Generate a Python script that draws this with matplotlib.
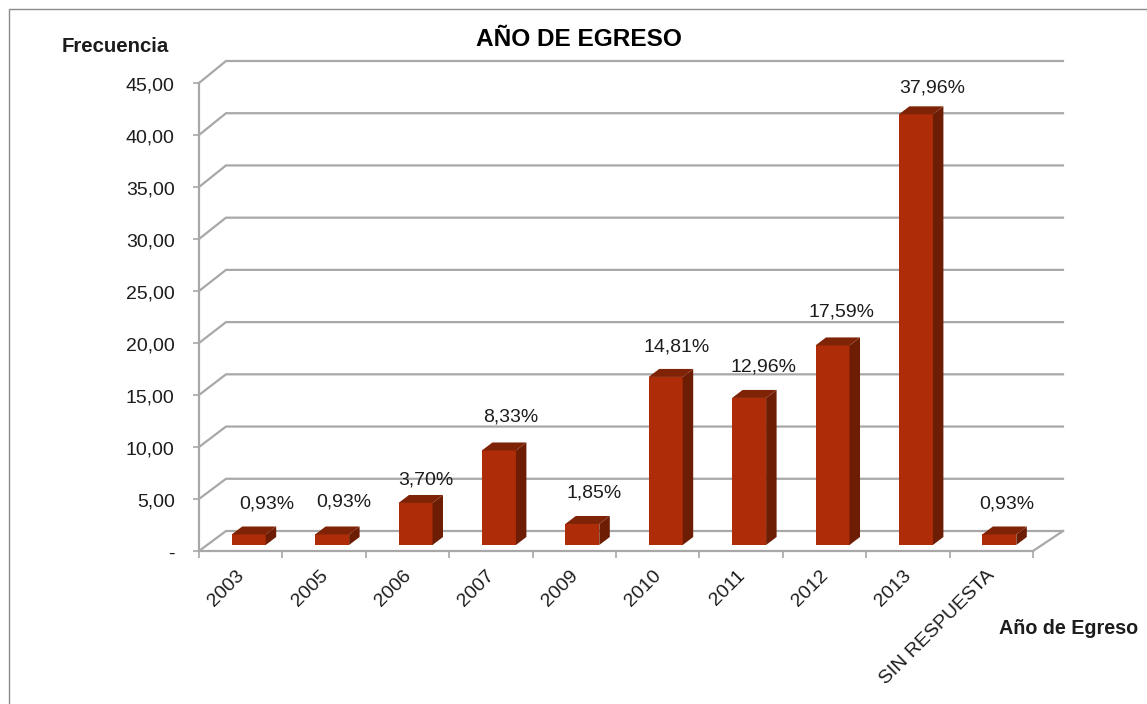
import matplotlib
matplotlib.use("Agg")
import matplotlib.pyplot as plt
from matplotlib.patches import Polygon
from matplotlib.lines import Line2D
from matplotlib.transforms import Affine2D

# ---- data ----
categories = ["2003", "2005", "2006", "2007", "2009", "2010", "2011", "2012", "2013", "SIN RESPUESTA"]
frequency = [1, 1, 4, 9, 2, 16, 14, 19, 41, 1]
pct_labels = ["0,93%", "0,93%", "3,70%", "8,33%", "1,85%", "14,81%", "12,96%", "17,59%", "37,96%", "0,93%"]
y_ticks = [0, 5, 10, 15, 20, 25, 30, 35, 40, 45]
y_tick_labels = ["-", "5,00", "10,00", "15,00", "20,00", "25,00", "30,00", "35,00", "40,00", "45,00"]

# ---- layout (pixels on a 1147x704 canvas) ----
W, H = 1147, 704
label_dx = [18, 12, 10, 12, 12, 11, 14, 9, 16, 8]
label_dy = [30, 32, 23, 33, 31, 30, 31, 33, 26, 30]
FRONT, SIDE, TOP = "#AE2D08", "#6E1D05", "#7E2306"
GRID = "#A8A8A8"
TXT = "#1c1c1c"

plt.rcParams["font.family"] = ["Liberation Sans", "DejaVu Sans"]
fig = plt.figure(figsize=(W / 100, H / 100), dpi=100, facecolor="white")
ax = fig.add_axes([199 / W, (H - 551) / H, 834 / W, 468 / H])
ax.patch.set_visible(False)
ax.set_xlim(0, len(categories))
ax.set_ylim(0, 45)
px_x = len(categories) / 834   # data units per pixel
px_y = 45 / 468

back_l = 27 * px_x
back_r = len(categories) + 30 * px_x
back_y = 20 * px_y
back_scale = 1.0043

# walls / gridlines
for v in y_ticks:
    ax.plot([0, back_l, back_r], [v, v * back_scale + back_y, v * back_scale + back_y],
            color=GRID, lw=1.6, clip_on=False, zorder=1, solid_joinstyle="miter")
# floor
ax.plot([len(categories), back_r], [0, back_y], color=GRID, lw=1.6, clip_on=False, zorder=1)

# bars
bar_w = 34 * px_x
bar_dx, bar_dy = 10.5 * px_x, 8 * px_y
stretch = 1.01
for i, (f, lab) in enumerate(zip(frequency, pct_labels)):
    x0 = i + 0.5 + 8 * px_x - bar_w / 2
    x1 = x0 + bar_w
    y0 = 6 * px_y
    y1 = y0 + f * stretch
    ax.bar(x0, f * stretch, width=bar_w, bottom=y0, align="edge", color=FRONT,
           clip_on=False, zorder=3)
    ax.add_patch(Polygon([(x1, y0), (x1 + bar_dx, y0 + bar_dy), (x1 + bar_dx, y1 + bar_dy), (x1, y1)],
                         closed=True, fc=SIDE, ec="none", clip_on=False, zorder=3))
    ax.add_patch(Polygon([(x0, y1), (x1, y1), (x1 + bar_dx, y1 + bar_dy), (x0 + bar_dx, y1 + bar_dy)],
                         closed=True, fc=TOP, ec="none", clip_on=False, zorder=3))
    ax.annotate(lab, xy=((x0 + x1) / 2, y1), xytext=(label_dx[i] * 0.72, label_dy[i] * 0.72),
                textcoords="offset points", ha="center", va="center", fontsize=14,
                color=TXT, zorder=5, annotation_clip=False)

# axes
for s in ("top", "right"):
    ax.spines[s].set_visible(False)
for s in ("left", "bottom"):
    ax.spines[s].set_color(GRID)
    ax.spines[s].set_linewidth(1.6)
ax.set_yticks(y_ticks, y_tick_labels, fontsize=14, color=TXT)
ax.tick_params(axis="y", length=4.5, width=1.2, color=GRID, pad=13)
for t in ax.get_yticklabels():
    t.set_transform(t.get_transform() + Affine2D().translate(0, -1))
ax.set_xticks(range(len(categories) + 1), [""] * (len(categories) + 1))
ax.tick_params(axis="x", which="major", length=5, width=1.2, color=GRID)
ax.set_xticks([i + 0.5 for i in range(len(categories))], categories, minor=True,
              fontsize=14, color=TXT)
ax.tick_params(axis="x", which="minor", length=0, pad=15)
for t in ax.get_xticklabels(minor=True):
    t.set_rotation(45)
    t.set_ha("right")
    t.set_va("center")
    t.set_rotation_mode("anchor")
    t.set_transform(t.get_transform() + Affine2D().translate(1, -1))

# texts
fig.text(579 / W, 1 - 40 / H, "AÑO DE EGRESO", ha="center", va="center", fontsize=17.6,
         fontweight="bold", color="black")
fig.text(115 / W, 1 - 47 / H, "Frecuencia", ha="center", va="center", fontsize=14.7,
         fontweight="bold", color=TXT)
fig.text(1069 / W, 1 - 629 / H, "Año de Egreso", ha="center", va="center", fontsize=14.2,
         fontweight="bold", color=TXT)

# outer frame
fig.add_artist(Line2D([9 / W, 9 / W, 1], [0, 1 - 9 / H, 1 - 9 / H], transform=fig.transFigure,
                      color="#8a8a8a", lw=1.0))

fig.savefig("out.png", dpi=100, facecolor="white")
